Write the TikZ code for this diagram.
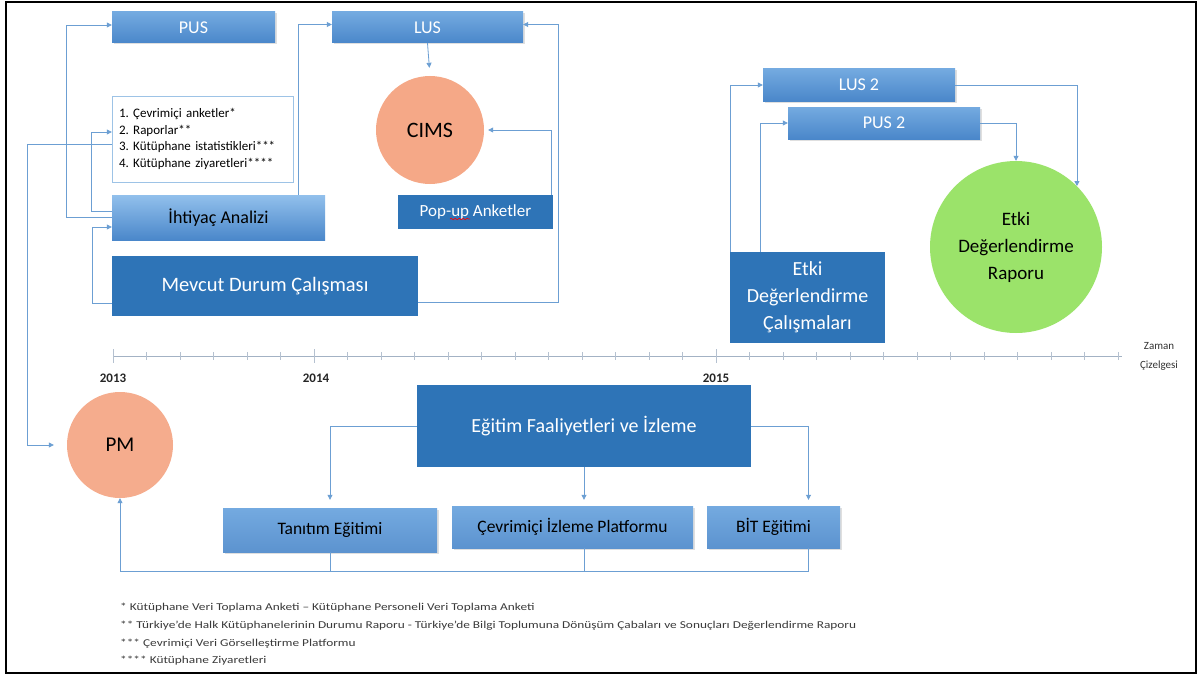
\documentclass[tikz,border=0pt]{standalone}
\usepackage{fontspec}
\setmainfont{Carlito}
\newfontfamily\notefont[FakeStretch=1.27]{Carlito}
\frenchspacing
\usetikzlibrary{arrows.meta,shadows,decorations.pathmorphing}
\definecolor{lineblue}{HTML}{6C9FD3}
\definecolor{boxtop}{HTML}{74AAE0}
\definecolor{boxbot}{HTML}{4A87CA}
\definecolor{palebox}{HTML}{92C0EC}
\definecolor{darkblue}{HTML}{2E74B7}
\definecolor{listblue}{HTML}{9DC3E6}
\definecolor{salmon}{HTML}{F5A887}
\definecolor{lightgreen}{HTML}{9BE36A}
\definecolor{axisgray}{HTML}{A3B2C4}
\definecolor{notegray}{HTML}{3A3A3A}

\begin{document}
\begin{tikzpicture}[x=1pt,y=-1pt,
box/.style={rectangle,inner sep=2pt,align=center},
lightbox/.style={box,top color=boxtop,bottom color=boxbot,text=white,
  drop shadow={shadow xshift=1.5pt,shadow yshift=-1.5pt,opacity=0.25},
  font=\fontsize{18}{20}\selectfont},
subbox/.style={box,top color=boxtop,bottom color=boxbot!90!white,text=black,
  drop shadow={shadow xshift=1.5pt,shadow yshift=-1.5pt,opacity=0.25},
  font=\fontsize{17.5}{19}\selectfont},
darkbox/.style={box,fill=darkblue,text=white,font=\fontsize{20}{27}\selectfont},
bubble/.style={circle,inner sep=0pt,text=black},
arr/.style={draw=lineblue,line width=0.8pt,-{Triangle[length=5pt,width=5pt]}},
link/.style={draw=lineblue,line width=0.8pt},
tick/.style={draw=axisgray!80,line width=0.6pt},
year/.style={font=\bfseries\fontsize{13}{15}\selectfont,text=black!85},
note/.style={anchor=west,inner sep=0pt,text=notegray,font=\notefont\fontsize{10.5}{12}\selectfont}
]
\useasboundingbox (0,0) rectangle (1200,677);
\fill[white] (0,0) rectangle (1200,677);
\draw[line width=1.6pt] (6,2) rectangle (1196,673);

\node[lightbox,minimum width=163pt,minimum height=31pt] (pus) at (193.5,27.5) {PUS};
\node[lightbox,minimum width=191pt,minimum height=31pt] (lus) at (427.5,27.5) {LUS};
\node[box,draw=listblue,fill=white,text width=167pt,inner xsep=7pt,minimum height=86pt,align=left,
  font=\fontsize{13}{16.7}\selectfont] (list) at (202.5,139)
  {1. Çevrimiçi anketler*\\2. Raporlar**\\3. Kütüphane istatistikleri***\\4. Kütüphane ziyaretleri****};
\node[box,top color=palebox,bottom color=boxbot,text=black,minimum width=213pt,minimum height=45pt,
  font=\fontsize{18}{20}\selectfont] (ihtiyac) at (218.5,217.5) {İhtiyaç Analizi};
\node[bubble,fill=salmon,minimum size=108pt,font=\fontsize{22}{24}\selectfont] (cims) at (430,130) {CIMS};
\node[darkbox,minimum width=155pt,minimum height=34pt,font=\fontsize{17}{19}\selectfont] (popup) at (475.5,212) {Pop-up Anketler};
\draw[red,line width=0.6pt,decorate,decoration={snake,amplitude=0.8pt,segment length=4pt}] (450,219) -- (470,219);
\node[darkbox,minimum width=306pt,minimum height=60pt,font=\fontsize{20.5}{22}\selectfont] (mevcut) at (265,286) {Mevcut Durum Çalışması};

\node[lightbox,minimum width=192pt,minimum height=32pt] (lus2) at (859,85) {LUS 2};
\node[lightbox,minimum width=192pt,minimum height=32pt] (pus2) at (884,123) {PUS 2};
\node[darkbox,minimum width=155pt,minimum height=91pt] (etkic) at (807.5,297.5) {Etki\\Değerlendirme\\Çalışmaları};
\node[bubble,fill=lightgreen,minimum size=172pt,align=center,font=\fontsize{19}{27}\selectfont] (etkir) at (1016,247)
  {Etki\\Değerlendirme\\Raporu};

\draw[draw=axisgray,line width=0.8pt] (113,356) -- (1122,356);
\foreach \i in {0,...,30} \draw[tick] (113+\i*33.5,352) -- (113+\i*33.5,360);
\foreach \i in {0,6,18} \draw[tick] (113+\i*33.5,349) -- (113+\i*33.5,363);
\node[year] (y2013) at (113,378) {2013};
\node[year] (y2014) at (316,378) {2014};
\node[year] (y2015) at (716,378) {2015};
\node[align=center,text=black!80,font=\fontsize{11}{19}\selectfont] (zaman) at (1159,356) {Zaman\\Çizelgesi};

\node[bubble,fill=salmon!95!white,minimum size=106pt,font=\fontsize{21}{23}\selectfont] (pm) at (120,445) {PM};
\node[darkbox,minimum width=334pt,minimum height=82pt,font=\fontsize{20}{22}\selectfont] (egitim) at (584,426) {Eğitim Faaliyetleri ve İzleme};
\node[subbox,minimum width=214pt,minimum height=44pt] (tanitim) at (330,530) {Tanıtım Eğitimi};
\node[subbox,minimum width=241pt,minimum height=42pt] (cevrim) at (572.5,527) {Çevrimiçi İzleme Platformu};
\node[subbox,minimum width=133pt,minimum height=42pt] (bit) at (773.5,527) {BİT Eğitimi};

\draw[arr] (ihtiyac.west) -- ++(-45,0) |- ([yshift=2.5pt]pus.west);
\draw[arr] ([yshift=6pt]ihtiyac.west) -- ++(-20,0) |- ([yshift=7pt]list.west);
\draw[arr,shorten >=13pt] ([yshift=-5pt]list.west) -- ++(-84,0) |- (pm.west);
\draw[arr] ([yshift=-17pt]mevcut.west) -- ++(-19,0) |- ([yshift=-9.5pt]ihtiyac.west);
\draw[arr] ([xshift=79.5pt]ihtiyac.north) |- ([yshift=3pt]lus.west);
\draw[arr,shorten >=8pt] (lus.south) -- (cims.north);
\draw[arr] ([yshift=-16pt]mevcut.east) -- ++(140,0) |- ([yshift=3pt]lus.east);
\draw[arr,shorten >=4pt] ([xshift=-1.5pt]popup.north east) |- (cims.east);

\draw[arr] ([xshift=1pt]etkic.north west) |- (lus2.west);
\draw[arr] ([xshift=31pt]etkic.north west) |- (pus2.west);
\draw[arr] (lus2.east) -| (etkir.north east);
\draw[arr] (pus2.east) -| (etkir.north);

\draw[arr,shorten >=8pt] (egitim.west) -| (tanitim.north);
\draw[arr,shorten >=6pt] (egitim.south) -- (egitim.south |- cevrim.north);
\draw[arr,shorten >=6pt] (egitim.east) -| ([xshift=35pt]bit.north);
\draw[link] (tanitim.south) -- ++(0,19);
\draw[link] (egitim.south |- cevrim.south) -- ++(0,23);
\draw[arr] ([xshift=35pt]bit.south) -- ++(0,23) -| (pm.south);

\node[note] (fn1) at (120,608) {* Kütüphane Veri Toplama Anketi – Kütüphane Personeli Veri Toplama Anketi};
\node[note] (fn2) at (120,626) {** Türkiye’de Halk Kütüphanelerinin Durumu Raporu - Türkiye’de Bilgi Toplumuna Dönüşüm Çabaları ve Sonuçları Değerlendirme Raporu};
\node[note] (fn3) at (120,644) {*** Çevrimiçi Veri Görselleştirme Platformu};
\node[note] (fn4) at (120,661) {**** Kütüphane Ziyaretleri};
\end{tikzpicture}
\end{document}
